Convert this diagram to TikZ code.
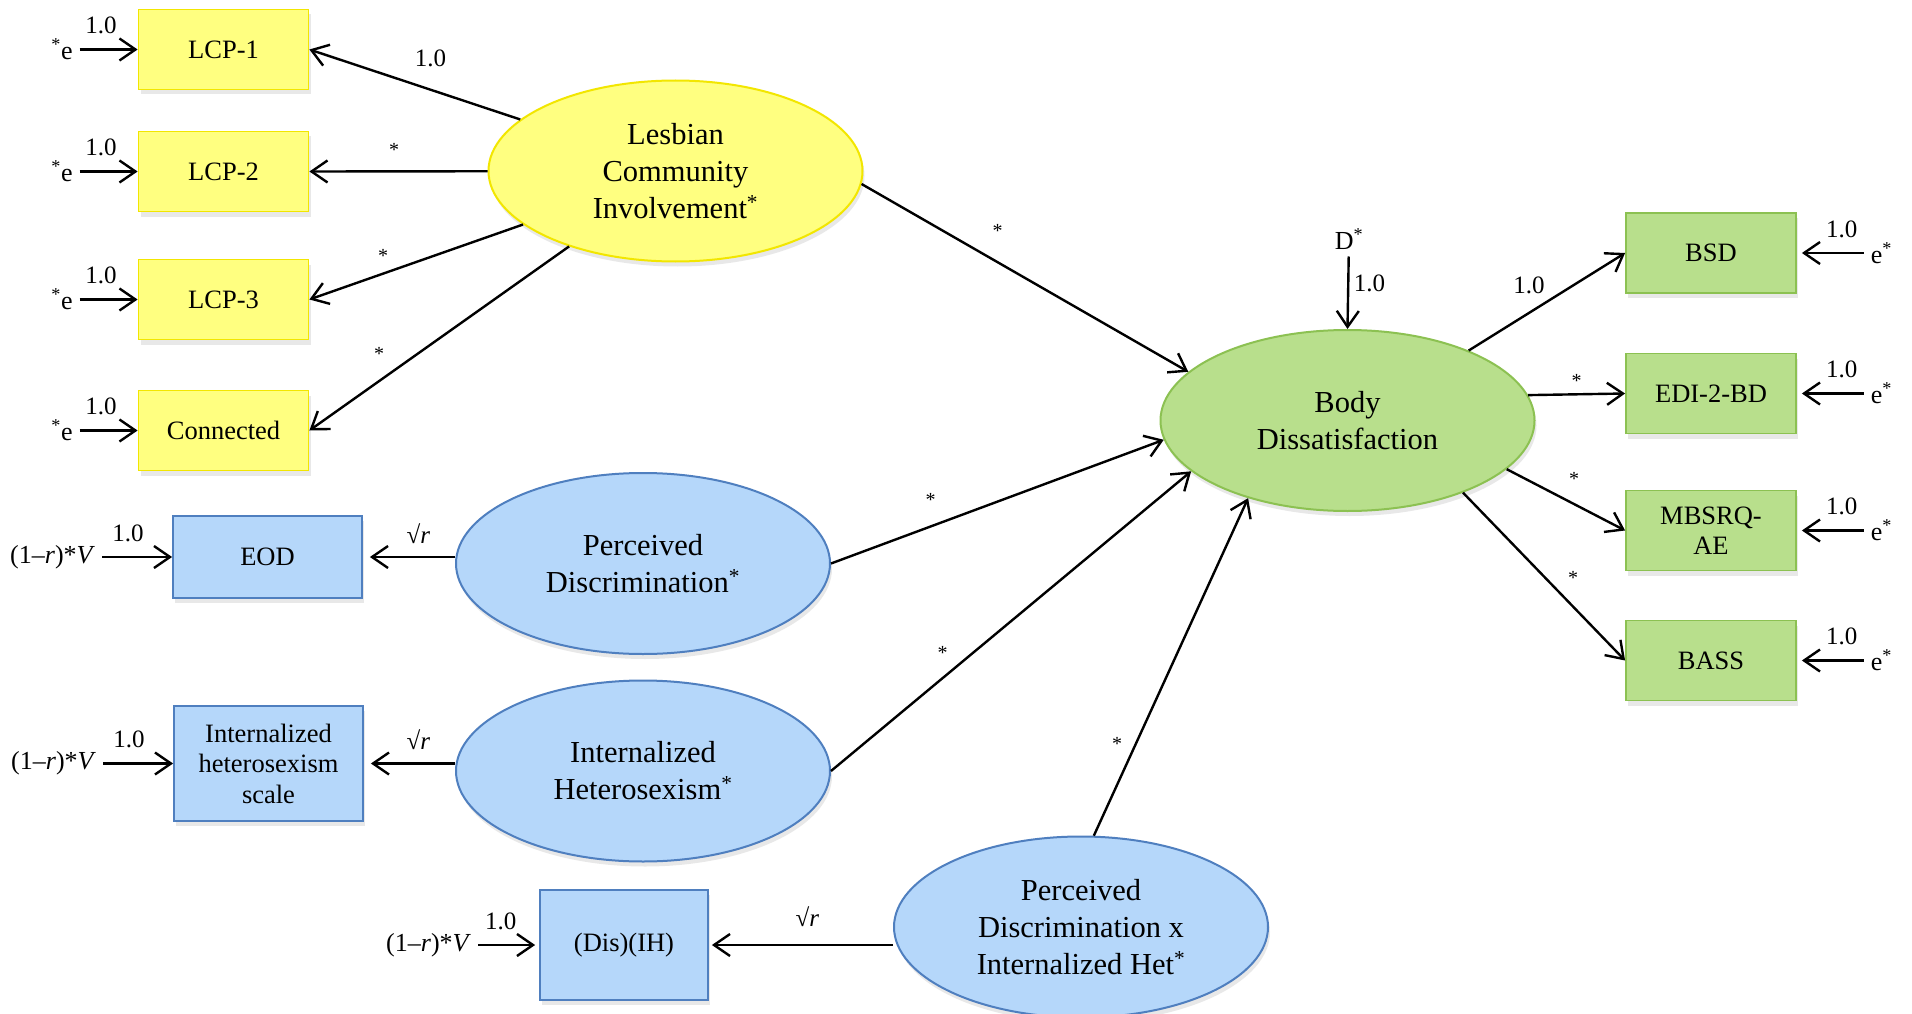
\documentclass[tikz,border=0pt]{standalone}
\usepackage{fontspec}
\setmainfont{Liberation Serif}
\usetikzlibrary{arrows.meta, positioning, shadows, shapes.geometric}
\definecolor{yellowfill}{HTML}{FFFF80}
\definecolor{yellowline}{HTML}{F2E600}
\definecolor{greenfill}{HTML}{B8DF8C}
\definecolor{greenline}{HTML}{8CC152}
\definecolor{bluefill}{HTML}{B5D7FA}
\definecolor{blueline}{HTML}{4F7FBF}

\begin{document}
\begin{tikzpicture}[x=1pt, y=-1pt,
    latent/.style={ellipse, line width=2pt, minimum width=374pt, minimum height=181pt,
                   inner sep=0pt, align=center, font=\fontsize{30.5}{37}\selectfont,
                   drop shadow={shadow xshift=2pt, shadow yshift=-5pt, opacity=.18}},
    box/.style={rectangle, line width=1.8pt, minimum width=170pt, minimum height=80pt,
                inner sep=0pt, align=center, font=\fontsize{26.5}{30.5}\selectfont,
                drop shadow={shadow xshift=2pt, shadow yshift=-5pt, opacity=.18}},
    ybox/.style={box, draw=yellowline, fill=yellowfill},
    gbox/.style={box, draw=greenline, fill=greenfill},
    bbox/.style={box, draw=blueline, fill=bluefill},
    err/.style={inner sep=4pt, outer sep=3pt, font=\fontsize{26}{31}\selectfont},
    wt/.style={inner sep=0pt, font=\fontsize{25}{30}\selectfont},
    star/.style={inner sep=0pt, font=\fontsize{20}{24}\selectfont},
    arr/.style={-{Straight Barb[length=16pt, width=22pt]}, line width=2.4pt}
]
\fill[white] (0,0) rectangle (1912,1014);
\useasboundingbox (0,0) rectangle (1912,1014);

% latent variables
\node[latent, draw=yellowline, fill=yellowfill] (lcp) at (675.5,171) {Lesbian\\Community\\Involvement\textsuperscript{*}};
\node[latent, draw=greenline, fill=greenfill] (body) at (1347.5,420.5) {Body\\Dissatisfaction};
\node[latent, draw=blueline, fill=bluefill] (pd) at (643,563.5) {Perceived\\Discrimination\textsuperscript{*}};
\node[latent, draw=blueline, fill=bluefill] (ih) at (643,771) {Internalized\\Heterosexism\textsuperscript{*}};
\node[latent, draw=blueline, fill=bluefill] (pdih) at (1081,927) {Perceived\\Discrimination x\\Internalized Het\textsuperscript{*}};

% indicators
\node[ybox] (lcp1) at (223.5,49.5) {LCP-1};
\node[ybox] (lcp2) at (223.5,171.5) {LCP-2};
\node[ybox] (lcp3) at (223.5,299.5) {LCP-3};
\node[ybox] (conn) at (223.5,430.5) {Connected};
\node[bbox, minimum width=189pt, minimum height=82pt] (eod) at (267.5,557) {EOD};
\node[bbox, minimum width=189pt, minimum height=115pt] (ihs) at (268.5,763.5) {Internalized\\heterosexism\\scale};
\node[bbox, minimum width=168pt, minimum height=110pt] (dis) at (624,945) {(Dis)(IH)};
\node[gbox] (bsd) at (1711,253) {BSD};
\node[gbox] (edi) at (1711,393.5) {EDI-2-BD};
\node[gbox] (mbsrq) at (1711,530.5) {MBSRQ-\\AE};
\node[gbox] (bass) at (1711,660.5) {BASS};

% paths
\draw[arr] (lcp) -- (lcp1.east);
\draw[arr] (lcp) -- (lcp2.east);
\draw[arr] (lcp) -- (lcp3.east);
\draw[arr] (lcp) -- (conn.east);
\draw[arr] (lcp.-4) -- (body.163);
\draw[arr] (pd.east) -- (body.186);
\draw[arr] (ih.east) -- (body.198);
\draw[arr] (pdih.82) -- (body.218);
\draw[arr] (body.30) -- (bsd.west);
\draw[arr] (body.8) -- (edi.west);
\draw[arr] (body.-17) -- (mbsrq.west);
\draw[arr] (body.-32) -- (bass.west);
\draw[arr, shorten >=7pt] (eod.east -| pd.west) -- (eod.east);
\draw[arr, shorten >=7pt] (ihs.east -| ih.west) -- (ihs.east);
\draw[arr, shorten >=3pt] (dis.east -| pdih.west) -- (dis.east);

% disturbance
\node[err] (d) at (1349,239) {D\textsuperscript{*}};
\draw[arr] (d) -- (body.north);
\node[wt] (w-d) at (1369.5,283) {1.0};

% weights
\node[wt] (w-lcp1) at (430.5,58.5) {1.0};
\node[star] (w-lcp2) at (394,150) {*};
\node[star] (w-lcp3) at (383,256) {*};
\node[star] (w-conn) at (379,353.5) {*};
\node[star] (w-lcpbody) at (997.5,230.5) {*};
\node[star] (w-pdbody) at (930.5,500) {*};
\node[star] (w-ihbody) at (942.5,652.5) {*};
\node[star] (w-pdihbody) at (1117,744) {*};
\node[wt] (w-bsd) at (1529,285.3) {1.0};
\node[star] (w-edi) at (1576.7,380.5) {*};
\node[star] (w-mbsrq) at (1574,479) {*};
\node[star] (w-bass) at (1573,578) {*};
\node[wt] (w-eod) at (418.3,534) {√\textit{r}};
\node[wt] (w-ihs) at (418.3,740) {√\textit{r}};
\node[wt] (w-dis) at (807.3,917) {√\textit{r}};

% error terms
\foreach \b in {lcp1,lcp2,lcp3,conn}{
  \node[err, left=58pt of \b] (e-\b) {\textsuperscript{*}e};
  \draw[arr] (e-\b) -- node[wt, pos=.37, above=14pt] (f-\b) {1.0} (\b);
}
\foreach \b in {bsd,edi,mbsrq,bass}{
  \node[err, right=67pt of \b] (e-\b) {e\textsuperscript{*}};
  \draw[arr, shorten >=5pt] (e-\b) -- node[wt, pos=.33, above=14pt] (f-\b) {1.0} (\b);
}
\node[err, left=70pt of eod] (e-eod) {(1--\textit{r})*\textit{V}};
\node[err, left=70pt of ihs] (e-ihs) {(1--\textit{r})*\textit{V}};
\node[err, left=61pt of dis] (e-dis) {(1--\textit{r})*\textit{V}};
\draw[arr] (e-eod) -- node[wt, pos=.37, above=14pt] (f-eod) {1.0} (eod);
\draw[arr] (e-ihs) -- node[wt, pos=.37, above=14pt] (f-ihs) {1.0} (ihs);
\draw[arr, shorten >=4pt] (e-dis) -- node[wt, pos=.37, above=14pt] (f-dis) {1.0} (dis);
\end{tikzpicture}
\end{document}
